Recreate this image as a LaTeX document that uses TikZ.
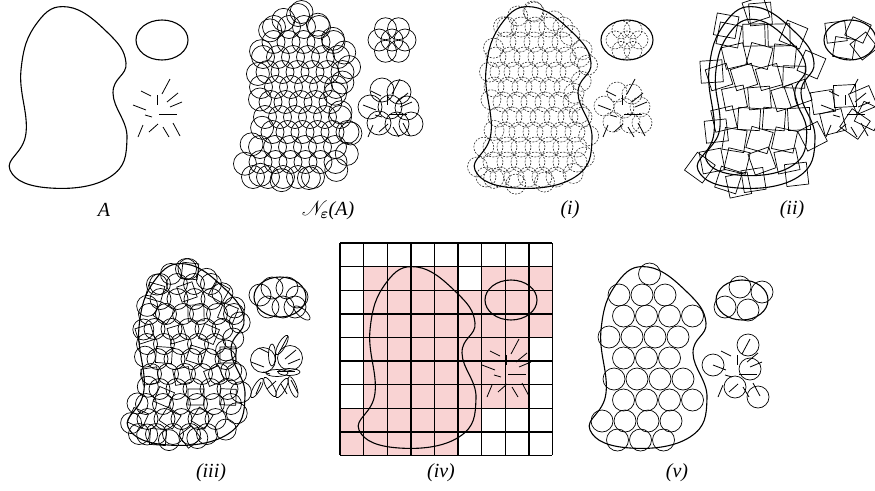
\documentclass[tikz,border=0pt]{standalone}
\usepackage{amsmath,amssymb}
\usepackage{mathrsfs}
\usepackage{fontspec}
\setmainfont{Liberation Serif}
\usetikzlibrary{calc}
\definecolor{CellPink}{HTML}{F9D3D3}

\tikzset{
  outline/.style={line width=1.1pt},
  cover/.style={line width=0.7pt},
  dashcover/.style={line width=0.6pt,dash pattern=on 2pt off 1.3pt,black!80},
  gridline/.style={line width=1.4pt},
  tag/.style={font=\fontsize{20}{23}\selectfont\itshape,inner sep=0pt}
}

\newcommand\blob[1][]{\draw[outline,#1] plot[smooth cycle,tension=0.75] coordinates {(68,7) (107,32) (126,63) (113,93) (127,138) (110,177) (50,188) (10,170) (26,133) (21,70) (37,23)};}
\newcommand\blobring[1][]{\draw[outline,#1] (162,40) ellipse [x radius=26pt,y radius=20pt];}
\newcommand\burst{\foreach \ax/\ay/\bx/\by in {170/79/162/94,157/95/157/105,141/91/151/96,133/105/146/110,145/115/152/117,178/93/167/102,182/102/170/107,159/114/177/114,143/125/138/137,158/124/149/132,163/127/169/137,173/123/180/136}
  \draw[line width=0.8pt] (\ax,\ay) -- (\bx,\by);}

\def\rowsfine{12/55/86,27/35/106,42/27/116,57/24/123,72/21/124,87/22/116,102/24/119,117/26/125,132/26/127,147/21/125,162/14/119,177/14/100}
\def\rowscoarse{14/50/92,35/31/111,56/24/122,77/21/122,98/24/117,119/26/126,140/24/127,161/14/119,180/18/95}
\def\rimpts{68/7,90/17,107/32,120/47,126/63,120/80,113/93,118/115,127/138,122/160,110/177,80/186,50/188,27/182,10/170,16/150,26/133,22/100,21/70,26/45,37/23,52/12}

\newcommand\coverblob[4]{%
  \foreach \yy/\xl/\xr [count=\i] in #1 {
    \pgfmathsetmacro\xs{\xl+#3+mod(\i,2)*#2/2}
    \pgfmathtruncatemacro\nn{max(0,floor((\xr-#3-\xs)/#2))}
    \foreach \k in {0,...,\nn} {
      \pgfmathsetmacro\xx{\xs+\k*#2}
      #4
    }
  }}

\begin{document}
\begin{tikzpicture}[x=1pt,y=-1pt]
\useasboundingbox (0,0) rectangle (875,490);
\pgfmathsetseed{42}

\blob \blobring \burst

\begin{scope}[shift={(230,0)}]
  \coverblob{\rowsfine}{15}{9}{\draw[cover] (\xx,\yy) circle[radius=11.5pt];}
  \foreach \px/\py in \rimpts \draw[cover] ($(\px,\py)!8pt!(68,97)$) circle[radius=11.5pt];
  \draw[cover] (162,40) circle[radius=11pt];
  \foreach \a in {0,60,...,300} \draw[cover] (162,40) ++(\a:13pt) circle[radius=11pt];
  \foreach \dx/\dy in {-5/-20,12/-18,-17/-3,3/-3,20/-2,-8/13,10/14,24/14}
    \draw[cover] (157+\dx,110+\dy) circle[radius=12pt];
  \burst
\end{scope}

\begin{scope}[shift={(465,0)}]
  \coverblob{\rowsfine}{14}{7}{\draw[dashcover] (\xx,\yy) circle[radius=10pt];}
  \foreach \px/\py in \rimpts \draw[dashcover] ($(\px,\py)!4pt!(68,97)$) circle[radius=10pt];
  \draw[dashcover] (162,40) circle[radius=9pt];
  \foreach \a in {0,60,...,300} \draw[dashcover] (162,40) ++(\a:12pt) circle[radius=9pt];
  \foreach \dx/\dy in {-5/-18,10/-16,-18/-4,2/-2,18/-3,-9/12,8/13,20/13}
    \draw[dashcover] (157+\dx,110+\dy) circle[radius=10pt];
  \blob \blobring \burst
\end{scope}

\begin{scope}[shift={(688,0)}]
  \coverblob{\rowscoarse}{25}{10}{\pgfmathsetmacro\ang{rand*20}
    \draw[cover,rotate around={\ang:(\xx,\yy)}] (\xx-11,\yy-11) rectangle (\xx+11,\yy+11);}
  \foreach \px/\py [count=\j] in \rimpts {\ifodd\j
    \pgfmathsetmacro\ang{rand*40}
    \coordinate (sq) at ($(\px,\py)!3pt!(68,97)$);
    \draw[cover,rotate around={\ang:(sq)}] ($(sq)+(-11,-11)$) rectangle ($(sq)+(11,11)$);\fi}
  \foreach \dx/\dy in {-14/-8,8/-10,-6/8,14/6}{
    \pgfmathsetmacro\ang{rand*40}
    \draw[cover,rotate around={\ang:(162+\dx,40+\dy)}] (162+\dx-10,40+\dy-10) rectangle (162+\dx+10,40+\dy+10);}
  \foreach \dx/\dy in {-22/-8,0/-14,18/-10,-12/12,10/14,24/6}{
    \pgfmathsetmacro\ang{rand*40}
    \draw[cover,rotate around={\ang:(157+\dx,110+\dy)}] (157+\dx-11,110+\dy-11) rectangle (157+\dx+11,110+\dy+11);}
  \blob \blobring \burst
  \begin{scope}[shift={(68,97)},scale=0.86,shift={(-68,-97)}]
    \blob
  \end{scope}
\end{scope}

\begin{scope}[shift={(118,257)}]
  \coverblob{\rowsfine}{17}{7}{\draw[cover] (\xx,\yy) circle[radius=10.5pt];}
  \foreach \px/\py in \rimpts \draw[cover] ($(\px,\py)!5pt!(68,97)$) circle[radius=10.5pt];
  \coverblob{\rowscoarse}{32}{6}{\pgfmathsetmacro\ang{rand*40}
    \draw[cover,rotate around={\ang:(\xx,\yy)}] (\xx-8,\yy-8) rectangle (\xx+8,\yy+8);}
  \foreach \dx/\dy in {-20/-2,-8/-9,7/-9,17/0,-12/10,3/10,15/10}
    \draw[cover] (162+\dx,40+\dy) circle[radius=11pt];
  \draw[cover,rotate around={-40:(184,56)}] (184,56) ellipse [x radius=10pt,y radius=4pt];
  \foreach \dx/\dy in {-12/-7,15/-9}
    \draw[cover] (157+\dx,110+\dy) circle[radius=12.5pt];
  \foreach \dx/\dy/\r in {7/-22/60,-3/-12/90,2/6/0,14/5/0,-18/21/60,-5/20/120,7/21/60,18/20/110}
    \draw[cover,rotate around={\r:(157+\dx,110+\dy)}] (157+\dx,110+\dy) ellipse [x radius=11pt,y radius=3.5pt];
  \blob \blobring \burst
\end{scope}

\begin{scope}[shift={(340,243)}]
  \foreach \r/\cols in {1/{1,2,3,4,6,7,8},2/{1,...,8},3/{1,...,8},4/{1,...,7},5/{1,...,7},6/{1,...,7},7/{0,...,5},8/{0,...,4}}
    \foreach \c in \cols \fill[CellPink] (\c*23.6,\r*23.6) rectangle ++(23.6,23.6);
  \foreach \k in {0,...,9}{
    \draw[gridline] (\k*23.6,0) -- (\k*23.6,212.4);
    \draw[gridline] (0,\k*23.6) -- (212.4,\k*23.6);}
\end{scope}
\begin{scope}[shift={(349,260)}]
  \blob \blobring \burst
\end{scope}

\begin{scope}[shift={(580,260)}]
  \coverblob{\rowscoarse}{23}{8}{\draw[cover] (\xx,\yy) circle[radius=11pt];}
  \foreach \dx/\dy in {-2/-13,20/-8,-17/7,6/10}
    \draw[cover] (162+\dx,40+\dy) circle[radius=11pt];
  \foreach \dx/\dy in {11/-25,-24/-5,13/-1,-2/17,21/27}
    \draw[cover] (157+\dx,110+\dy) circle[radius=11pt];
  \blob \blobring \burst
\end{scope}

\node[tag] (labA) at (104,210) {A};
\node[tag] (labN) at (328,210) {$\mathscr{N}_{\boldsymbol{\varepsilon}}$(\textit{A})};
\node[tag] (labi) at (570,210) {(i)};
\node[tag] (labii) at (792,210) {(ii)};
\node[tag] (labiii) at (211,473) {(iii)};
\node[tag] (labiv) at (441,473) {(iv)};
\node[tag] (labv) at (677,473) {(v)};
\end{tikzpicture}
\end{document}
